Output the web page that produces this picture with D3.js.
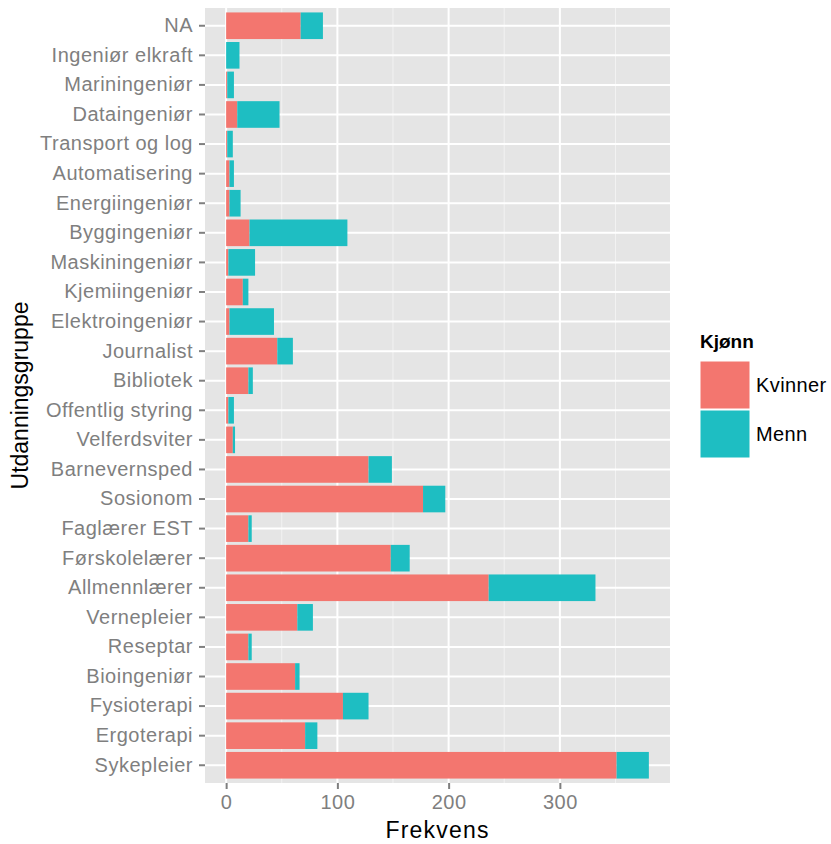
<!DOCTYPE html>
<html>
<head>
<meta charset="utf-8">
<script src="https://cdn.jsdelivr.net/npm/d3@7"></script>
<style>
  body { margin: 0; background: #fff; }
  text { font-family: "Liberation Sans", Arial, sans-serif; }
</style>
</head>
<body>
<div id="chart"></div>
<script>
// categories from top to bottom
const categories = ["NA", "Ingeniør elkraft", "Mariningeniør", "Dataingeniør", "Transport og log",
  "Automatisering", "Energiingeniør", "Byggingeniør", "Maskiningeniør", "Kjemiingeniør",
  "Elektroingeniør", "Journalist", "Bibliotek", "Offentlig styring", "Velferdsviter",
  "Barnevernsped", "Sosionom", "Faglærer EST", "Førskolelærer", "Allmennlærer",
  "Vernepleier", "Reseptar", "Bioingeniør", "Fysioterapi", "Ergoterapi", "Sykepleier"];

const kvinner = [67, 0, 1, 10, 1, 3, 3, 21, 2, 15, 3, 46, 20, 2, 6, 128, 177, 20, 148, 236, 64, 20, 62, 105, 71, 351];
const menn    = [20, 12, 6, 38, 5, 4, 10, 88, 24, 5, 40, 14, 4, 5, 2, 21, 20, 3, 17, 96, 14, 3, 4, 23, 11, 29];

const groups = ["Kvinner", "Menn"];
const colors = ["#F3766F", "#1EBEC2"];
const xTicks = [0, 100, 200, 300];
const xMinor = [50, 150, 250, 350];

const W = 831, H = 844;
const panel = { left: 205, right: 670, top: 8, bottom: 783 };

const svg = d3.select("#chart").append("svg")
  .attr("width", W)
  .attr("height", H);

const rows = categories.map((c, i) => ({ cat: c, Kvinner: kvinner[i], Menn: menn[i] }));
const stacked = d3.stack().keys(groups)(rows);

const maxTotal = d3.max(rows, d => d.Kvinner + d.Menn);
const x = d3.scaleLinear()
  .domain([-0.05 * maxTotal, 1.05 * maxTotal])
  .range([panel.left, panel.right]);

// ggplot style: 0.6 unit expansion each side, bar width 0.9
const y = d3.scaleBand()
  .domain(categories)
  .range([panel.top, panel.bottom])
  .paddingInner(0.1)
  .paddingOuter(0.15);

// background
svg.append("rect")
  .attr("x", panel.left)
  .attr("y", panel.top)
  .attr("width", panel.right - panel.left)
  .attr("height", panel.bottom - panel.top)
  .attr("fill", "#E5E5E5");

// minor grid
svg.selectAll(".minor").data(xMinor).enter().append("line")
  .attr("x1", d => x(d)).attr("x2", d => x(d))
  .attr("y1", panel.top).attr("y2", panel.bottom)
  .attr("stroke", "#F2F2F2").attr("stroke-width", 1);

// major grid
svg.selectAll(".vmajor").data(xTicks).enter().append("line")
  .attr("x1", d => x(d)).attr("x2", d => x(d))
  .attr("y1", panel.top).attr("y2", panel.bottom)
  .attr("stroke", "#fff").attr("stroke-width", 2);

svg.selectAll(".hmajor").data(categories).enter().append("line")
  .attr("x1", panel.left).attr("x2", panel.right)
  .attr("y1", d => y(d) + y.bandwidth() / 2)
  .attr("y2", d => y(d) + y.bandwidth() / 2)
  .attr("stroke", "#fff").attr("stroke-width", 2);

// bars
stacked.forEach((layer, k) => {
  svg.append("g").selectAll("rect").data(layer).enter().append("rect")
    .attr("x", d => x(d[0]))
    .attr("width", d => x(d[1]) - x(d[0]))
    .attr("y", d => y(d.data.cat))
    .attr("height", y.bandwidth())
    .attr("fill", colors[k]);
});

// y axis
const yAxis = svg.append("g")
  .attr("transform", `translate(${panel.left},0)`)
  .call(d3.axisLeft(y).tickSize(6).tickPadding(6));
yAxis.select(".domain").remove();
yAxis.selectAll("line").attr("stroke", "#7F7F7F").attr("stroke-width", 2);
yAxis.selectAll("text").attr("fill", "#7F7F7F").style("font-size", "20px")
  .style("letter-spacing", "0.5px")
  .style("font-family", "'Liberation Sans', Arial, sans-serif");

// x axis
const xAxis = svg.append("g")
  .attr("transform", `translate(0,${panel.bottom})`)
  .call(d3.axisBottom(x).tickValues(xTicks).tickSize(6).tickPadding(6));
xAxis.select(".domain").remove();
xAxis.selectAll("line").attr("stroke", "#7F7F7F").attr("stroke-width", 2);
xAxis.selectAll("text").attr("fill", "#7F7F7F").style("font-size", "20px")
  .style("letter-spacing", "0.5px")
  .style("font-family", "'Liberation Sans', Arial, sans-serif");

// axis titles
svg.append("text")
  .attr("x", (panel.left + panel.right) / 2)
  .attr("y", 838)
  .attr("text-anchor", "middle")
  .style("font-size", "23px")
  .style("letter-spacing", "1.2px")
  .text("Frekvens");

svg.append("text")
  .attr("transform", `translate(28,${(panel.top + panel.bottom) / 2}) rotate(-90)`)
  .attr("text-anchor", "middle")
  .style("font-size", "23px")
  .text("Utdanningsgruppe");

// legend
const legend = svg.append("g").attr("transform", "translate(700,0)");
legend.append("text")
  .attr("x", 0).attr("y", 348)
  .style("font-size", "19px")
  .style("font-weight", "bold")
  .text("Kjønn");

groups.forEach((g, i) => {
  legend.append("rect")
    .attr("x", 0).attr("y", 361 + i * 49)
    .attr("width", 50).attr("height", 48)
    .attr("fill", colors[i])
    .attr("stroke", "#fff").attr("stroke-width", 1);
  legend.append("text")
    .attr("x", 56).attr("y", 361 + i * 49 + 31)
    .style("font-size", "20px")
    .style("letter-spacing", "0.4px")
    .text(g);
});
</script>
</body>
</html>
